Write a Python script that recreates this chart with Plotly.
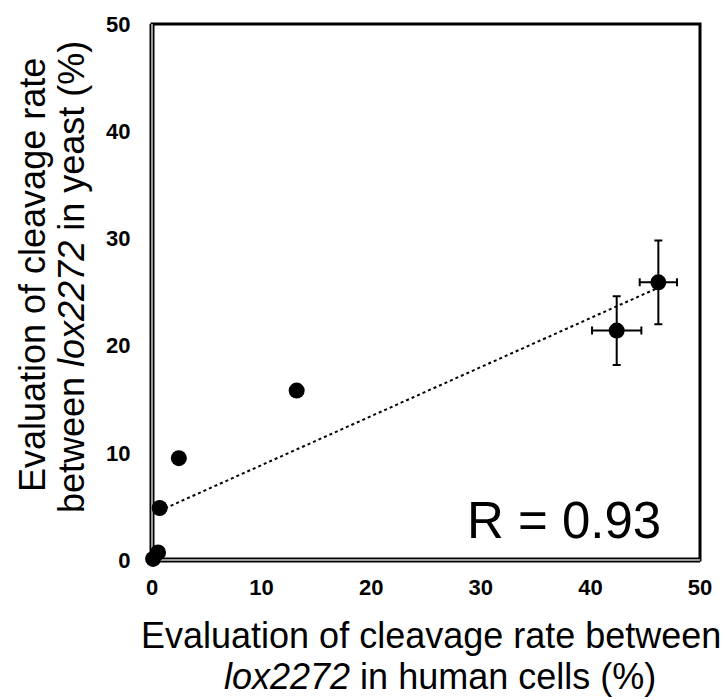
import plotly.graph_objects as go

# Data
human_x = [0.1, 0.55, 0.7, 2.45, 13.2, 42.4, 46.2]
yeast_y = [0.1, 0.7, 4.85, 9.5, 15.8, 21.4, 25.9]
human_err = [0, 0, 0, 0, 0, 2.25, 1.7]
yeast_err = [0, 0, 0, 0, 0, 3.2, 3.9]

trend_x = [0.7, 46.2]
trend_y = [4.6, 25.4]

tick_vals = [0, 10, 20, 30, 40, 50]
r_label = "R = 0.93"
x_title_lines = ["Evaluation of cleavage rate between", "<i>lox2272</i> in human cells (%)"]
y_title_lines = ["Evaluation of cleavage rate", "between <i>lox2272</i> in yeast (%)"]

FONT = "Liberation Sans, Arial, sans-serif"
L, T, W, H = 152, 22, 548, 538  # plot area in px


def px(xp):
    return (xp - L) / W


def py(yp):
    return (T + H - yp) / H


fig = go.Figure()

fig.add_trace(go.Scatter(
    x=trend_x, y=trend_y, mode="lines",
    line=dict(color="black", width=2, dash="dot"),
    hoverinfo="skip", showlegend=False,
))

fig.add_trace(go.Scatter(
    x=human_x, y=yeast_y, mode="markers",
    marker=dict(color="black", size=16),
    error_x=dict(type="data", array=human_err, color="black", thickness=2, width=4, visible=True),
    error_y=dict(type="data", array=yeast_err, color="black", thickness=2, width=4, visible=True),
    cliponaxis=False, showlegend=False,
))

axis_common = dict(
    range=[0, 50], tickvals=tick_vals, showgrid=False, zeroline=False,
    showline=False, ticks="outside", tickcolor="rgba(0,0,0,0)",
    tickfont=dict(family=FONT, size=22, color="black", weight="bold"),
    fixedrange=True,
)

fig.update_layout(
    width=726, height=700,
    margin=dict(l=L, r=726 - L - W, t=T, b=700 - T - H),
    paper_bgcolor="white", plot_bgcolor="white",
    xaxis=dict(**axis_common, ticklen=8),
    yaxis=dict(**axis_common, ticklen=16),
    font=dict(family=FONT, color="black"),
    shapes=[
        dict(type="rect", xref="paper", yref="paper", x0=0, y0=0, x1=1, y1=1,
             line=dict(color="black", width=3), layer="below"),
        dict(type="line", xref="paper", yref="paper", x0=0, y0=0, x1=0, y1=1,
             line=dict(color="black", width=5), layer="below"),
        dict(type="line", xref="paper", yref="paper", x0=0, y0=0, x1=0, y1=1,
             line=dict(color="#999999", width=2), layer="below"),
        dict(type="line", xref="paper", yref="paper", x0=0, y0=0, x1=1, y1=0,
             line=dict(color="black", width=5), layer="below"),
        dict(type="line", xref="paper", yref="paper", x0=0, y0=0, x1=1, y1=0,
             line=dict(color="#999999", width=2), layer="below"),
    ],
    annotations=[
        dict(text=r_label, xref="paper", yref="paper", x=px(564), y=py(520),
             xanchor="center", yanchor="middle", showarrow=False,
             font=dict(family=FONT, size=51, color="black")),
        dict(text=x_title_lines[0], xref="paper", yref="paper", x=px(431), y=py(636),
             xanchor="center", yanchor="middle", showarrow=False,
             font=dict(family=FONT, size=36, color="black")),
        dict(text=x_title_lines[1], xref="paper", yref="paper", x=px(440), y=py(677),
             xanchor="center", yanchor="middle", showarrow=False,
             font=dict(family=FONT, size=36, color="black")),
        dict(text=y_title_lines[0], xref="paper", yref="paper", x=px(32), y=py(274),
             xanchor="center", yanchor="middle", showarrow=False, textangle=-90,
             font=dict(family=FONT, size=36, color="black")),
        dict(text=y_title_lines[1], xref="paper", yref="paper", x=px(71), y=py(276),
             xanchor="center", yanchor="middle", showarrow=False, textangle=-90,
             font=dict(family=FONT, size=36, color="black")),
    ],
)

fig.write_html("out.html")
